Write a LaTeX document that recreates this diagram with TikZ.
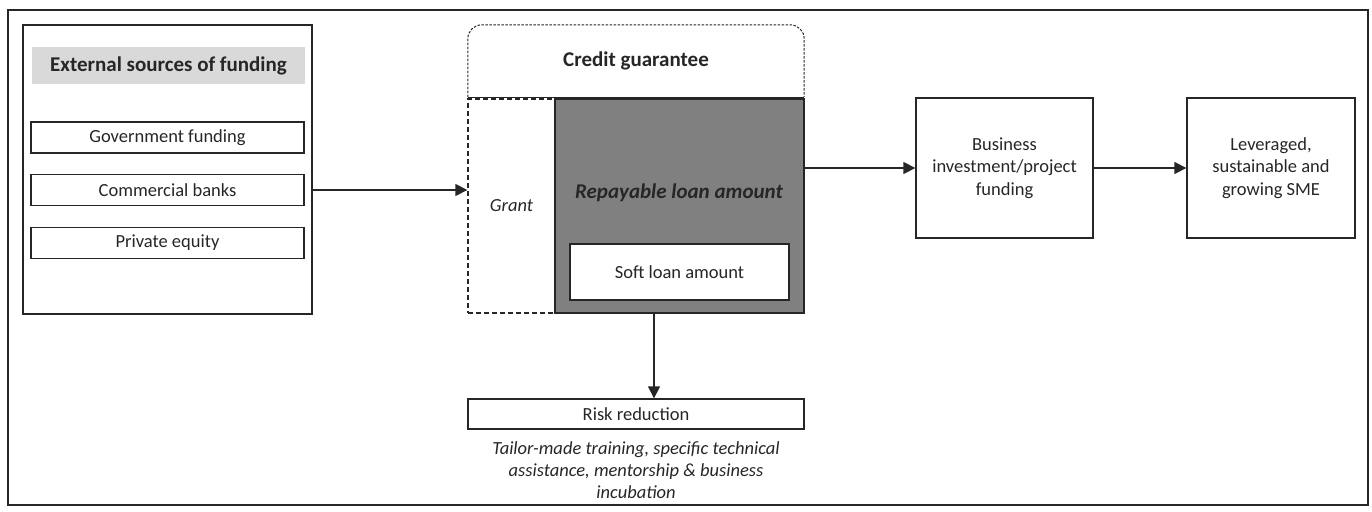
\documentclass[tikz,border=0pt]{standalone}
\usepackage{fontspec}
\setmainfont{Carlito}
\usetikzlibrary{arrows.meta}
\definecolor{inkgray}{HTML}{262626}
\definecolor{loangray}{HTML}{808080}
\definecolor{headgray}{HTML}{D9D9D9}

\begin{document}
\begin{tikzpicture}[x=1pt, y=-1pt,
  box/.style={draw=inkgray, line width=1.3pt, text=inkgray, inner sep=0pt, align=center,
    font=\fontsize{18.5}{22.5}\selectfont},
  title/.style={text=inkgray, inner sep=0pt, font=\fontsize{21}{25}\selectfont\bfseries},
  flow/.style={-{Triangle[length=12pt, width=12pt]}, line width=1.3pt, inkgray}]

  \useasboundingbox (0, 0) rectangle (1372, 511);
  \draw[line width=1.3pt, inkgray] (8, 10) rectangle (1368, 505);

  % external sources
  \node[box, minimum width=289pt, minimum height=289pt] (ext) at (167.5, 169.5) {};
  \node[title, fill=headgray, minimum width=273pt, minimum height=37pt] (exthead) at (168.5, 65.5)
    {External sources of funding};
  \foreach \name/\y/\txt in {gov/137.5/Government funding, banks/190/Commercial banks,
    equity/243/Private equity} {
    \node[box, minimum width=273pt, minimum height=31pt] (\name) at (167.5, \y) {\txt};
  }

  % credit guarantee
  \node[title, minimum width=336pt, minimum height=72pt] (credit) at (636, 61) {Credit guarantee};
  \draw[inkgray, line width=1pt, dash pattern=on 2.5pt off 1.5pt, rounded corners=14pt]
    (credit.south west) -- (credit.north west) -- (credit.north east) -- (credit.south east);
  \draw[inkgray, line width=1.3pt] (credit.south west) -- (credit.south east);

  \node[box, dash pattern=on 5pt off 3pt, minimum width=87pt, minimum height=214pt,
    font=\fontsize{18.5}{22.5}\selectfont\itshape] (grant) at (511.5, 206) {Grant};
  \node[box, fill=loangray, minimum width=249pt, minimum height=214pt] (loan) at (679.5, 206) {};
  \node[title, font=\fontsize{21}{25}\selectfont\bfseries\itshape] (loantext) at (679, 193)
    {Repayable loan amount};
  \node[box, fill=white, minimum width=219pt, minimum height=56pt] (soft) at (679.5, 272)
    {Soft loan amount};

  % risk reduction
  \node[box, minimum width=336pt, minimum height=30pt] (risk) at (636, 414) {Risk reduction};
  \node[text=inkgray, align=center, inner sep=0pt, font=\fontsize{18.5}{22}\selectfont\itshape]
    (note) at (636, 470) {Tailor-made training, specific technical\\assistance, mentorship \& business\\incubation};

  % outcomes
  \node[box, minimum width=177pt, minimum height=140pt] (business) at (1004.5, 168)
    {Business\\investment/project\\funding};
  \node[box, minimum width=168pt, minimum height=140pt] (sme) at (1271, 168)
    {Leveraged,\\sustainable and\\growing SME};

  \draw[flow] (ext.east |- banks) -- (grant.west |- banks);
  \draw[flow] (loan.east |- business) -- (business);
  \draw[flow] (business) -- (sme);
  \draw[flow] ([xshift=-25.5pt]loan.south) -- ([xshift=18pt]risk.north);

\end{tikzpicture}
\end{document}
